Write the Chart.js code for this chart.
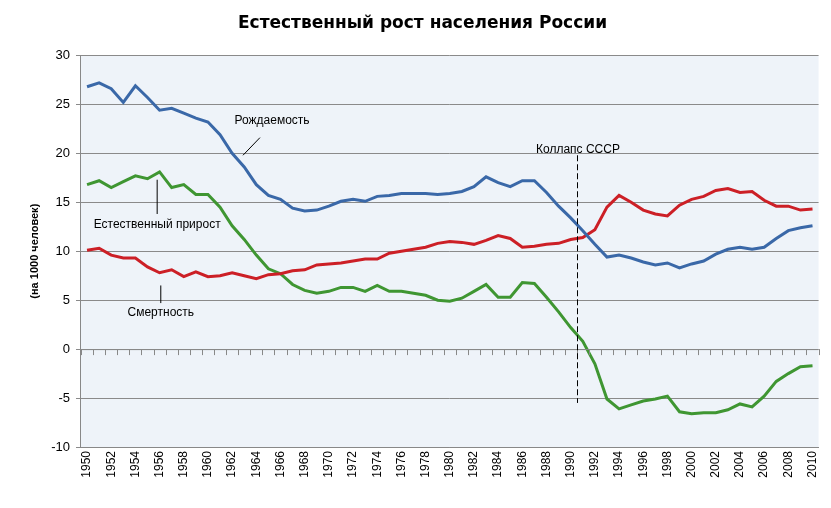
<!DOCTYPE html>
<html><head><meta charset="utf-8">
<script src="https://cdn.jsdelivr.net/npm/chart.js@4"></script>
<style>body{margin:0;background:#fff}#w{width:831px;height:508px}</style>
</head><body><div id="w"><canvas id="c"></canvas></div>
<script>
const years=[];for(let y=1950;y<=2010;y++)years.push(String(y));
const births=[26.8,27.2,26.6,25.2,26.9,25.7,24.4,24.6,24.1,23.6,
23.2,21.9,20.0,18.6,16.8,15.7,15.3,14.4,14.1,14.2,
14.6,15.1,15.3,15.1,15.6,15.7,15.9,15.9,15.9,15.8,
15.9,16.1,16.6,17.6,17.0,16.6,17.2,17.2,16.0,14.6,
13.4,12.1,10.7,9.4,9.6,9.3,8.9,8.6,8.8,8.3,
8.7,9.0,9.7,10.2,10.4,10.2,10.4,11.3,12.1,12.4,12.6];
const deaths=[10.1,10.3,9.6,9.3,9.3,8.4,7.8,8.1,7.4,7.9,
7.4,7.5,7.8,7.5,7.2,7.6,7.7,8.0,8.1,8.6,
8.7,8.8,9.0,9.2,9.2,9.8,10.0,10.2,10.4,10.8,
11.0,10.9,10.7,11.1,11.6,11.3,10.4,10.5,10.7,10.8,
11.2,11.4,12.2,14.5,15.7,15.0,14.2,13.8,13.6,14.7,
15.3,15.6,16.2,16.4,16.0,16.1,15.2,14.6,14.6,14.2,14.3];
const natural=[16.8,17.2,16.5,17.1,17.7,17.4,18.1,16.5,16.8,15.8,
15.8,14.5,12.6,11.2,9.6,8.2,7.7,6.6,6.0,5.7,
5.9,6.3,6.3,5.9,6.5,5.9,5.9,5.7,5.5,5.0,
4.9,5.2,5.9,6.6,5.3,5.3,6.8,6.7,5.3,3.8,
2.2,0.8,-1.5,-5.1,-6.1,-5.7,-5.3,-5.1,-4.8,-6.4,
-6.6,-6.5,-6.5,-6.2,-5.6,-5.9,-4.8,-3.3,-2.5,-1.8,-1.7];
const FONT='"Liberation Sans", Arial, sans-serif';
const notes=[
 {text:'Рождаемость',x:1965.3,y:23.3,line:[1962.9,19.8,1964.3,21.6]},
 {text:'Естественный прирост',x:1955.8,y:12.7,line:[1955.8,17.3,1955.8,13.8]},
 {text:'Смертность',x:1956.1,y:3.7,line:[1956.1,6.5,1956.1,4.7]},
 {text:'Коллапс СССР',x:1990.6,y:20.4,line:null}
];
const plug={id:'p',
 beforeDraw(ch){const a=ch.chartArea,c=ch.ctx;c.save();c.fillStyle='#eef3f9';c.fillRect(a.left,a.top,a.right-a.left,a.bottom-a.top);c.restore();},
 afterDatasetsDraw(ch){const c=ch.ctx,xs=ch.scales.x,ys=ch.scales.y;
  const px=v=>xs.getPixelForValue(v-1950);
  c.save();
  const z=ys.getPixelForValue(0);c.strokeStyle='#888';c.lineWidth=1;
  c.beginPath();c.moveTo(ch.chartArea.left,z+0.5);c.lineTo(ch.chartArea.right,z+0.5);c.stroke();
  for(let i=0;i<=61;i++){const x=Math.round(px(1949.5+i))+0.5;c.beginPath();c.moveTo(x,z);c.lineTo(x,z+6);c.stroke();}
  c.strokeStyle='#000';c.setLineDash([6,3]);c.beginPath();
  const dx=Math.round(px(1990.5))+0.5;c.moveTo(dx,ys.getPixelForValue(19.8));c.lineTo(dx,ys.getPixelForValue(-5.5));c.stroke();c.setLineDash([]);
  c.font='12px '+FONT;c.fillStyle='#000';c.textAlign='center';c.textBaseline='middle';
  notes.forEach(n=>{c.fillText(n.text,px(n.x),ys.getPixelForValue(n.y));
   if(n.line){c.beginPath();c.moveTo(px(n.line[0]),ys.getPixelForValue(n.line[1]));c.lineTo(px(n.line[2]),ys.getPixelForValue(n.line[3]));c.stroke();}});
  c.restore();}
};
const ds=(l,d,col)=>({label:l,data:d,borderColor:col,borderWidth:3,pointRadius:0,tension:0,fill:false});
new Chart(document.getElementById('c'),{type:'line',
 data:{labels:years,datasets:[ds('Рождаемость',births,'#3a68a8'),ds('Смертность',deaths,'#cc1f26'),ds('Естественный прирост',natural,'#3f9632')]},
 options:{responsive:true,maintainAspectRatio:false,animation:false,
  layout:{padding:{left:24,right:10,top:0,bottom:4}},
  plugins:{legend:{display:false},tooltip:{enabled:false},
   title:{display:true,text:'Естественный рост населения России',font:{family:'"DejaVu Sans", sans-serif',size:17,weight:'bold'},color:'#000',padding:{top:13,bottom:22}}},
  scales:{
   x:{offset:true,grid:{display:false,drawTicks:false},border:{color:'#888'},
      ticks:{autoSkip:false,maxRotation:90,minRotation:90,color:'#000',font:{family:FONT,size:12},padding:4,
        callback:(v,i)=>i%2===0?years[i]:''},
      afterFit(s){s.height=57;}},
   y:{min:-10,max:30,ticks:{stepSize:5,color:'#000',font:{family:FONT,size:13},padding:6},
      grid:{color:'#8a8a8a',tickLength:5},border:{color:'#888'},
      title:{display:true,text:'(на 1000 человек)',color:'#000',font:{family:FONT,size:11,weight:'bold'}}}
  }},
 plugins:[plug]});
</script></body></html>
